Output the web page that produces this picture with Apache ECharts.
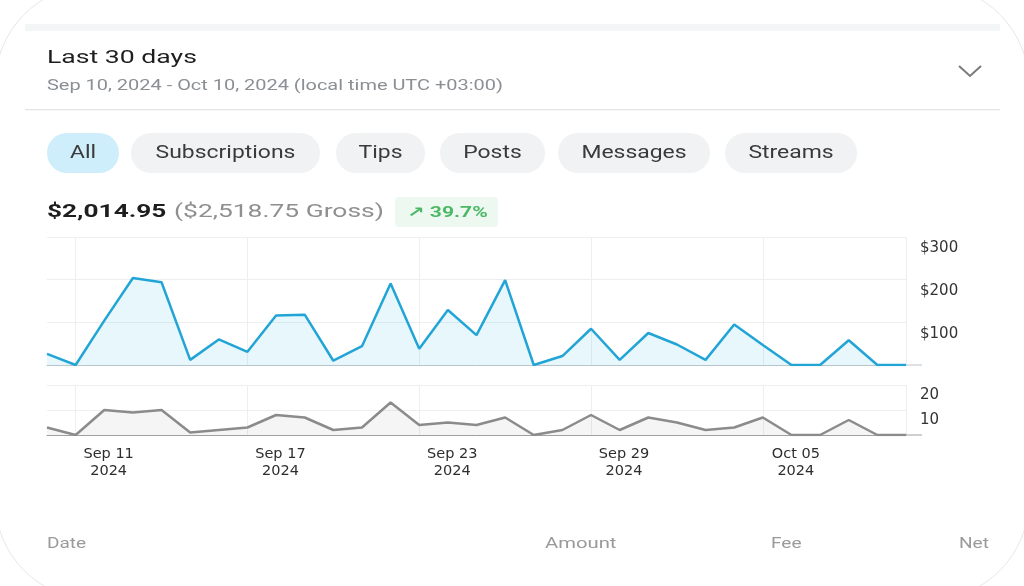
<!DOCTYPE html>
<html>
<head>
<meta charset="utf-8">
<script src="https://cdn.jsdelivr.net/npm/echarts@6/dist/echarts.min.js"></script>
<style>
html,body{margin:0;padding:0;background:#ffffff;}
#chart{width:1024px;height:586px;}
</style>
</head>
<body>
<div id="chart"></div>
<script>
// ---- data ----
const dates = ['Sep 10','Sep 11','Sep 12','Sep 13','Sep 14','Sep 15','Sep 16','Sep 17','Sep 18','Sep 19',
  'Sep 20','Sep 21','Sep 22','Sep 23','Sep 24','Sep 25','Sep 26','Sep 27','Sep 28','Sep 29',
  'Sep 30','Oct 01','Oct 02','Oct 03','Oct 04','Oct 05','Oct 06','Oct 07','Oct 08','Oct 09','Oct 10'];
const year = '2024';
const netEarnings = [26,0,104,204,194,12,60,31,116,118,
  10,44,191,38,129,70,199,0,21,85,
  12,75,48,12,95,47,0,0,58,0,0];
const txCount = [3,0,10,9,10,1,2,3,8,7,
  2,3,13,4,5,4,7,0,2,8,
  2,7,5,2,3,7,0,0,6,0,0];
const moneyTicks = { min: 0, max: 300, interval: 100 };
const countTicks = { min: 0, max: 20, interval: 10 };
const filters = ['All','Subscriptions','Tips','Posts','Messages','Streams'];
const tableHeaders = ['Date','Amount','Fee','Net'];
const title = 'Last 30 days';
const subtitle = 'Sep 10, 2024 - Oct 10, 2024 (local time UTC +03:00)';
const netTotal = '$2,014.95';
const grossTotal = '($2,518.75 Gross)';
const change = '\u2197 39.7%';

// ---- layout / style ----
const chipBoxes = [[47,119],[131,320],[336,425],[440,545],[558,710],[725,857]];
const SX = 1.3;
const gridColor = '#eceff0';
const labelFont = 'DejaVu Sans';

function tickShown(i){ return (i - 1) % 6 === 0; }
function splitShown(i){ return (i - 1) % 6 === 0 || i === dates.length - 1; }

function txt(x, y, text, o){
  return {
    type: 'text', x: x, y: y, scaleX: o.sx || SX, scaleY: 1,
    style: {
      text: text, x: 0, y: 0,
      fontFamily: o.family || 'Roboto',
      fontSize: o.size || 16,
      fontWeight: o.weight || 'normal',
      fill: o.color || '#222',
      align: o.align || 'left',
      verticalAlign: 'middle'
    }, z: 10
  };
}

const graphics = [
  {type:'rect', shape:{x:-5,y:-15,width:1034,height:615,r:100}, style:{fill:'#fff',stroke:'#e6e6e6',lineWidth:1}, z:0, silent:true},
  {type:'rect', shape:{x:25,y:24,width:975,height:7}, style:{fill:'#f3f6f6'}, z:1},
  {type:'rect', shape:{x:25,y:109,width:975,height:1.2}, style:{fill:'#e4e4e4'}, z:1},
  txt(47, 58, title, {size:19, color:'#1e1e1e', sx:1.4}),
  txt(47, 86, subtitle, {size:15, color:'#8a8f94', sx:1.33}),
  {type:'polyline', shape:{points:[[959,66],[970,76],[981,66]]}, style:{stroke:'#7a7a7a',lineWidth:2,fill:null}, z:10},
  txt(47, 212, netTotal, {size:19, weight:'bold', color:'#1e1e1e', sx:1.38}),
  txt(174, 212, grossTotal, {size:19, color:'#8f8f8f', sx:1.39}),
  {type:'rect', shape:{x:395,y:197,width:103,height:30,r:4}, style:{fill:'#edf8f0'}, z:5},
  txt(407, 213, change, {size:14.5, weight:'bold', color:'#4cb866', family:'Roboto, DejaVu Sans', sx:1.45}),
];
filters.forEach(function(f, i){
  const b = chipBoxes[i];
  graphics.push({type:'rect', shape:{x:b[0],y:133,width:b[1]-b[0],height:40,r:20},
    style:{fill: i === 0 ? '#cdeefa' : '#f0f2f3'}, z:5});
  graphics.push(txt((b[0]+b[1])/2, 154, f, {size:17.5, color:'#3a3a3a', align:'center', sx:1.31}));
});
const headerX = [47, 545, 771, 959];
const headerSX = [1.27, 1.35, 1.27, 1.27];
tableHeaders.forEach(function(h, i){
  graphics.push(txt(headerX[i], 544, h, {size:15, color:'#9a9a9a', sx:headerSX[i]}));
});
// axis baseline extensions under the price labels
graphics.push({type:'line', shape:{x1:906,y1:365,x2:922,y2:365}, style:{stroke:'#b7c4c9',lineWidth:1}, z:10});
graphics.push({type:'line', shape:{x1:906,y1:435,x2:922,y2:435}, style:{stroke:'#a0a0a0',lineWidth:1}, z:10});

const chart = echarts.init(document.getElementById('chart'), null, {renderer:'canvas'});
chart.setOption({
  animation: false,
  backgroundColor: 'transparent',
  graphic: graphics,
  grid: [
    {left:47, right:118, top:237, height:128},
    {left:47, right:118, top:385, height:50}
  ],
  xAxis: [
    {type:'category', gridIndex:0, data:dates, boundaryGap:false,
      axisLine:{show:true, lineStyle:{color:'#b7c4c9'}}, axisTick:{show:false}, axisLabel:{show:false},
      splitLine:{show:true, interval:splitShown, lineStyle:{color:gridColor}}},
    {type:'category', gridIndex:1, data:dates, boundaryGap:false,
      axisLine:{show:true, lineStyle:{color:'#a0a0a0'}}, axisTick:{show:false},
      axisLabel:{show:true, interval:function(i){return tickShown(i);}, formatter:function(v){return v + '\n' + year;},
        fontFamily:labelFont, fontSize:14.5, color:'#2e2e2e', lineHeight:17, margin:11, align:'center', padding:[0,0,0,66]},
      splitLine:{show:true, interval:splitShown, lineStyle:{color:gridColor}}}
  ],
  yAxis: [
    {type:'value', gridIndex:0, position:'right', min:moneyTicks.min, max:moneyTicks.max, interval:moneyTicks.interval,
      axisLine:{show:false}, axisTick:{show:false},
      axisLabel:{showMinLabel:false, formatter:function(v){return '$' + v;}, fontFamily:labelFont, fontSize:15, color:'#333',
        margin:14, verticalAlign:'top', padding:[4,0,0,0]},
      splitLine:{show:true, lineStyle:{color:gridColor}}},
    {type:'value', gridIndex:1, position:'right', min:countTicks.min, max:countTicks.max, interval:countTicks.interval,
      axisLine:{show:false}, axisTick:{show:false},
      axisLabel:{showMinLabel:false, fontFamily:labelFont, fontSize:15, color:'#333',
        margin:14, verticalAlign:'top', padding:[3,0,0,0]},
      splitLine:{show:true, lineStyle:{color:gridColor}}}
  ],
  series: [
    {type:'line', xAxisIndex:0, yAxisIndex:0, data:netEarnings, symbol:'none',
      lineStyle:{color:'#22a5d6', width:2.5}, areaStyle:{color:'rgba(60,190,230,0.17)'}, z:3},
    {type:'line', xAxisIndex:1, yAxisIndex:1, data:txCount, symbol:'none',
      lineStyle:{color:'#8b8b8b', width:2.5}, areaStyle:{color:'rgba(140,140,140,0.13)'}, z:3}
  ]
});
</script>
</body>
</html>
